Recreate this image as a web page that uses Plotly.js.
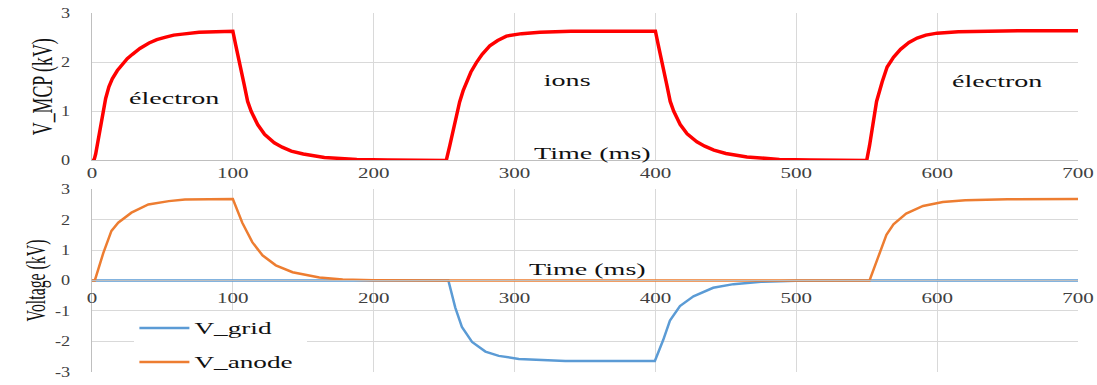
<!DOCTYPE html>
<html>
<head>
<meta charset="utf-8">
<script src="https://cdn.plot.ly/plotly-3.0.1.min.js"></script>
<style>
html,body{margin:0;padding:0;background:#fff;}
#chart{width:1097px;height:385px;}
</style>
</head>
<body>
<div id="chart"></div>
<script>
// ---- data ----
const tMcp = [0, 1.4, 2.6, 5, 7.5, 9.7, 12, 14.4, 18, 21.6, 25, 28.7, 34, 40.5, 46, 52.4, 58, 64.2, 70, 76, 88, 100,
  102, 104.8, 108, 110.5, 113, 117.6, 122.5, 129.4, 135, 141.5, 150, 165, 188, 210, 249.5,
  251.5, 254, 256.3, 258.5, 261, 263.5, 265.8, 269, 272.9, 277, 282.4, 288, 294.2, 305, 318, 340, 370, 400,
  402, 404.8, 408, 410.5, 413, 417.6, 422.5, 429.4, 435, 441.5, 450, 465, 488, 510, 549,
  550, 552, 554, 557, 561, 564.5, 569, 574, 580, 585.8, 592, 600, 615, 633, 660, 700];
const vMcp = [0, 0, 0.13, 0.53, 0.95, 1.26, 1.5, 1.66, 1.83, 1.96, 2.07, 2.16, 2.28, 2.39, 2.46, 2.51, 2.55, 2.57, 2.59, 2.61, 2.62, 2.63,
  2.35, 2.0, 1.55, 1.2, 1.0, 0.73, 0.53, 0.36, 0.27, 0.19, 0.13, 0.06, 0.02, 0.01, 0,
  0, 0.3, 0.59, 0.88, 1.19, 1.42, 1.59, 1.8, 1.99, 2.16, 2.33, 2.44, 2.53, 2.58, 2.61, 2.63, 2.63, 2.63,
  2.35, 2.0, 1.55, 1.2, 1.0, 0.73, 0.54, 0.38, 0.29, 0.21, 0.14, 0.07, 0.02, 0.01, 0,
  0, 0.3, 0.65, 1.2, 1.6, 1.9, 2.1, 2.26, 2.4, 2.49, 2.55, 2.59, 2.62, 2.63, 2.64, 2.64];

const tGrid = [0, 250, 253, 257.9, 262.6, 269.8, 279.3, 288.8, 303, 336, 399.6, 405.5, 410.3, 417.4, 427, 441, 455.4, 475, 500, 550, 700];
const vGrid = [0, 0, 0, -0.89, -1.53, -2.02, -2.34, -2.48, -2.58, -2.65, -2.65, -1.96, -1.32, -0.84, -0.52, -0.24, -0.12, -0.04, -0.01, 0, 0];

const tAnode = [0, 2, 8, 13.8, 18.6, 28, 40, 54.5, 66, 80, 100, 106.7, 113.8, 121, 130.5, 142.4, 161.4, 178, 200, 250, 400, 550,
  552, 558, 564, 569, 578, 590, 604, 620, 650, 700];
const vAnode = [0, 0, 0.9, 1.63, 1.9, 2.23, 2.5, 2.61, 2.66, 2.67, 2.68, 1.9, 1.26, 0.83, 0.5, 0.27, 0.1, 0.03, 0.01, 0, 0, 0,
  0, 0.75, 1.5, 1.85, 2.2, 2.45, 2.58, 2.64, 2.67, 2.68];

const xTickVals = [0, 100, 200, 300, 400, 500, 600, 700];
const yTopTicks = [0, 1, 2, 3];
const yBotTicks = [-3, -2, -1, 0, 1, 2, 3];
const seriesNames = ['V_MCP', 'V_grid', 'V_anode'];
const labelTexts = ['électron', 'ions', 'électron'];
const labelX = [58.6, 337, 643];
const labelY = [1.27, 1.63, 1.6];

// ---- styling ----
const serif = 'Liberation Serif, Times New Roman, serif';
const tickFont = {family: serif, size: 14, color: '#404040'};
const gridCol = '#d9d9d9';
const lineCol = '#bfbfbf';

const traces = [
  {x: tMcp, y: vMcp, name: seriesNames[0], type: 'scatter', mode: 'lines',
   line: {color: '#ff0000', width: 3.5}, xaxis: 'x', yaxis: 'y', showlegend: false},
  {x: tGrid, y: vGrid, name: seriesNames[1], type: 'scatter', mode: 'lines',
   line: {color: '#5b9bd5', width: 2.5}, xaxis: 'x2', yaxis: 'y2', legendgroup: 'g1'},
  {x: tAnode, y: vAnode, name: seriesNames[2], type: 'scatter', mode: 'lines',
   line: {color: '#ed7d31', width: 2.5}, xaxis: 'x2', yaxis: 'y2', legendgroup: 'g2'}
];

const H = 385, mt = 13, mb = 6, ph = H - mt - mb;
const frac = py => (H - mb - py) / ph;

const annotations = labelTexts.map((t, i) => ({
  text: t, x: labelX[i], y: labelY[i], xref: 'x', yref: 'y', showarrow: false,
  font: {family: serif, size: 17, color: '#111'}
}));
annotations.push({text: 'Time (ms)', x: 355, y: 0.14, xref: 'x', yref: 'y', showarrow: false,
  font: {family: serif, size: 17, color: '#111'}});
annotations.push({text: 'Time (ms)', x: 352, y: 0.37, xref: 'x2', yref: 'y2', showarrow: false,
  font: {family: serif, size: 17, color: '#111'}});

const layout = {
  width: 1097, height: 385,
  margin: {l: 92, r: 19, t: mt, b: mb},
  paper_bgcolor: '#fff', plot_bgcolor: '#fff',
  showlegend: true,
  legend: {x: 0.043, y: frac(317), xanchor: 'left', yanchor: 'top', bgcolor: '#fff',
    font: {family: serif, size: 16, color: '#111'}, tracegroupgap: 10, itemwidth: 50},
  xaxis: {domain: [0, 1], range: [0, 700], anchor: 'y', tickvals: xTickVals, showgrid: true, gridcolor: gridCol,
    showline: true, linecolor: lineCol, zeroline: false, ticks: '', tickfont: tickFont},
  yaxis: {domain: [frac(163.3), 1], range: [0, 3], tickvals: yTopTicks, ticktext: yTopTicks.map(String),
    showgrid: true, gridcolor: gridCol,
    showline: true, linecolor: lineCol, zeroline: false, ticks: '', tickfont: tickFont, ticklabelstandoff: 18,
    title: {text: 'V_MCP (kV)', font: {family: serif, size: 29, color: '#111'}, standoff: 2}},
  xaxis2: {range: [0, 700], anchor: 'free', position: frac(285.7), tickvals: xTickVals, showgrid: true, gridcolor: gridCol,
    showline: true, linecolor: lineCol, zeroline: false, ticks: '', tickfont: tickFont, ticklabelstandoff: 5},
  yaxis2: {domain: [frac(378.7), frac(192.7)], range: [-3, 3], anchor: 'x2', tickvals: yBotTicks, ticktext: yBotTicks.map(String),
    showgrid: true, gridcolor: gridCol,
    showline: true, linecolor: lineCol, zeroline: false, ticks: '', tickfont: tickFont, ticklabelstandoff: 18,
    title: {text: 'Voltage (kV)', font: {family: serif, size: 27, color: '#111'}, standoff: 5}},
  annotations: annotations
};

// stretch text horizontally, keeping its anchor point where Plotly put it
function fitText(el, target) {
  const w = el.getComputedTextLength();
  if (!w) return;
  const anchor = el.getAttribute('text-anchor') || getComputedStyle(el).textAnchor;
  const r0 = el.getBoundingClientRect();
  el.setAttribute('textLength', target.toFixed(1));
  el.setAttribute('lengthAdjust', 'spacingAndGlyphs');
  const r1 = el.getBoundingClientRect();
  const x = parseFloat(el.getAttribute('x')) || 0;
  let shift;
  if (anchor === 'middle') shift = (r0.left + r0.right) / 2 - (r1.left + r1.right) / 2;
  else if (anchor === 'end') shift = r0.right - r1.right;
  else shift = r0.left - r1.left;
  el.setAttribute('x', (x + shift).toFixed(2));
}
function stretch(sel, factor) {
  document.querySelectorAll(sel).forEach(el => fitText(el, el.getComputedTextLength() * factor));
}
// condense a rotated axis title along its reading direction, around its own centre
function condenseTitle(sel, len) {
  document.querySelectorAll(sel).forEach(el => {
    const w = el.getComputedTextLength();
    if (!w) return;
    const r0 = el.getBoundingClientRect();
    const cx = parseFloat(el.getAttribute('x')) || 0;
    const cy = parseFloat(el.getAttribute('y')) || 0;
    const k = len / w;
    const tr = el.getAttribute('transform') || '';
    el.setAttribute('transform', tr + ` translate(${cx},${cy}) scale(${k.toFixed(4)},1) translate(${-cx},${-cy})`);
    const r1 = el.getBoundingClientRect();
    // re-centre on screen (rotate(-90): +x in text space points up)
    const d = (r1.top + r1.bottom) / 2 - (r0.top + r0.bottom) / 2;
    el.setAttribute('x', (cx + d / k).toFixed(2));
  });
}

Plotly.newPlot('chart', traces, layout, {displayModeBar: false, staticPlot: true}).then(() => {
  stretch('.xtick text', 1.5);
  stretch('.x2tick text', 1.5);
  stretch('.ytick text', 1.3);
  stretch('.y2tick text', 1.3);
  stretch('.annotation-text', 1.65);
  stretch('.legendtext', 1.7);
  condenseTitle('.g-ytitle text', 97);
  condenseTitle('.g-y2title text', 82);
  const leg = document.querySelector('.legend');
  if (leg) {
    leg.querySelectorAll('[clip-path]').forEach(e => e.removeAttribute('clip-path'));
    const box = leg.querySelector('.scrollbox');
    const bg = leg.querySelector('rect.bg');
    if (box && bg) bg.setAttribute('width', (box.getBBox().width + 14).toFixed(1));
  }
});
</script>
</body>
</html>
